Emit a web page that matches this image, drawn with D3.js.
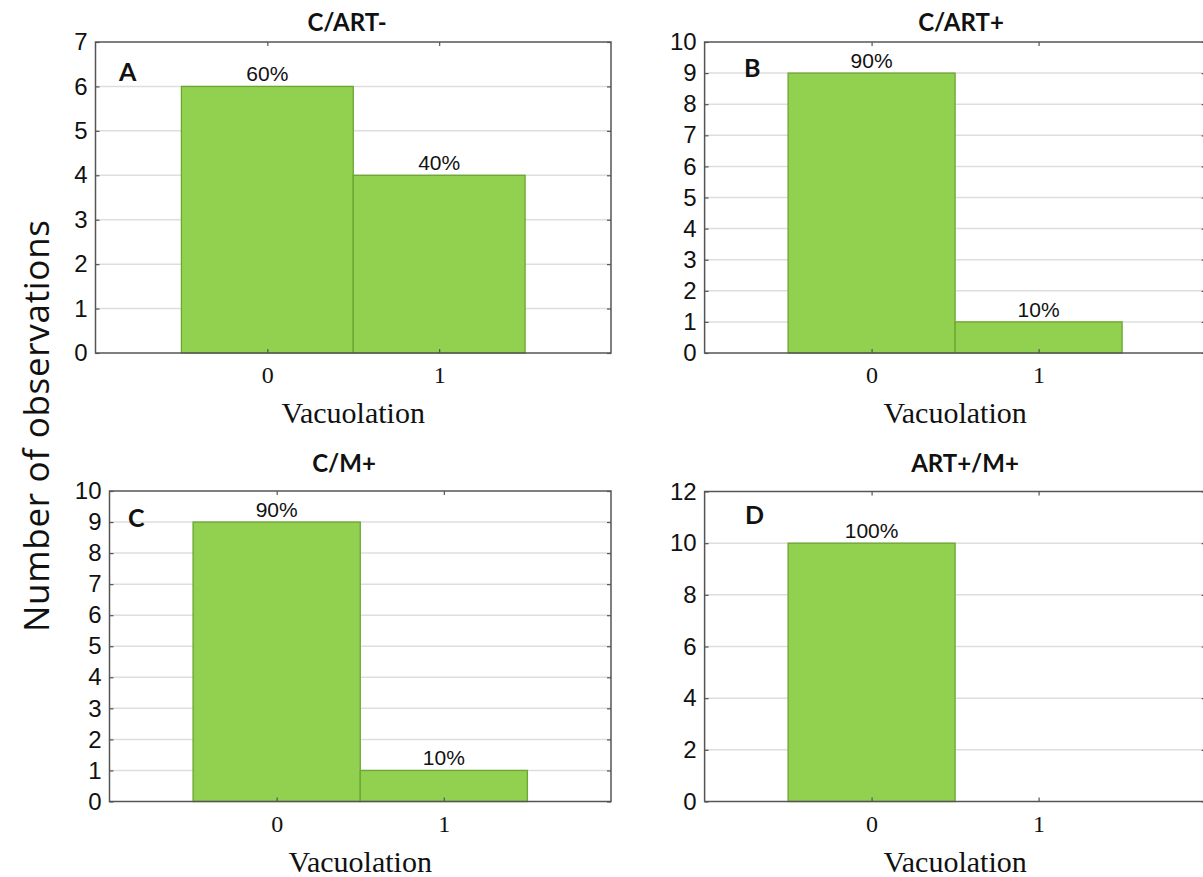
<!DOCTYPE html>
<html>
<head>
<meta charset="utf-8">
<script src="https://cdn.jsdelivr.net/npm/d3@7"></script>
<style>
  body { margin: 0; background: #fff; }
  svg { display: block; }
</style>
</head>
<body>
<div id="chart"></div>
<script>
// data
var categories = [0, 1];
var titles = ["C/ART-", "C/ART+", "C/M+", "ART+/M+"];
var letters = ["A", "B", "C", "D"];
var countsA = [6, 4];
var countsB = [9, 1];
var countsC = [9, 1];
var countsD = [10, 0];
var yMaxes = [7, 10, 10, 12];
var yStep = [1, 1, 1, 2];
var xLabel = "Vacuolation";
var yLabel = "Number of observations";

var allCounts = [countsA, countsB, countsC, countsD];

// panel placement
var layout = [
  {left: 95.5, top: 42, right: 611, bottom: 353, titleX: 347, titleY: 31, letterX: 119, letterY: 81},
  {left: 704.6, top: 42, right: 1205.6, bottom: 353, titleX: 961, titleY: 31, letterX: 744, letterY: 77},
  {left: 109.5, top: 491, right: 611, bottom: 801.5, titleX: 344, titleY: 472, letterX: 128, letterY: 527},
  {left: 704.6, top: 491.5, right: 1205.6, bottom: 801.5, titleX: 965, titleY: 472, letterX: 745, letterY: 524}
];

var W = 1203, H = 877;
var svg = d3.select("#chart").append("svg")
  .attr("width", W)
  .attr("height", H);

var sans = "'Liberation Sans', Arial, sans-serif";
var serif = "'Liberation Serif', 'Times New Roman', serif";
var title = "Lato, 'Open Sans', sans-serif";

// shared y label
svg.append("text")
  .attr("transform", "translate(49,426) rotate(-90)")
  .attr("text-anchor", "middle")
  .attr("textLength", 412)
  .attr("lengthAdjust", "spacing")
  .style("font-family", "'Open Sans', sans-serif")
  .style("font-size", "35px")
  .style("fill", "#111")
  .text(yLabel);

allCounts.forEach(function(counts, i) {
  var L = layout[i];
  var width = L.right - L.left, height = L.bottom - L.top;
  var g = svg.append("g")
    .attr("transform", "translate(" + L.left + "," + L.top + ")");

  var x = d3.scaleLinear().domain([-1, 2]).range([0, width]);
  var y = d3.scaleLinear().domain([0, yMaxes[i]]).range([height, 0]);
  var yTicks = d3.range(0, yMaxes[i] + 0.001, yStep[i]);
  var total = d3.sum(counts);

  // gridlines
  g.append("g")
    .selectAll("line")
    .data(yTicks.filter(function(t) { return t > 0 && t < yMaxes[i]; }))
    .enter().append("line")
      .attr("x1", 0).attr("x2", width)
      .attr("y1", function(d) { return y(d); })
      .attr("y2", function(d) { return y(d); })
      .attr("stroke", "#dedede")
      .attr("stroke-width", 1.5);

  var shown = categories.map(function(c, j) { return {c: c, v: counts[j]}; })
    .filter(function(d) { return d.v > 0; });

  // bars
  g.selectAll("rect.bar")
    .data(shown)
    .enter().append("rect")
      .attr("class", "bar")
      .attr("x", function(d) { return x(d.c - 0.5); })
      .attr("width", function(d) { return x(d.c + 0.5) - x(d.c - 0.5); })
      .attr("y", function(d) { return y(d.v); })
      .attr("height", function(d) { return y(0) - y(d.v); })
      .attr("fill", "#92d050")
      .attr("stroke", "#6aa632")
      .attr("stroke-width", 1.3);

  // percentage labels
  g.selectAll("text.pct")
    .data(shown)
    .enter().append("text")
      .attr("class", "pct")
      .attr("x", function(d) { return x(d.c); })
      .attr("y", function(d) { return y(d.v) - 5; })
      .attr("text-anchor", "middle")
      .style("font-family", sans)
      .style("font-size", "21px")
      .style("fill", "#111")
      .text(function(d) { return d3.format(".0%")(d.v / total); });

  // axes with inward ticks
  g.append("g")
    .call(d3.axisLeft(y).tickValues(yTicks).tickSize(-4).tickPadding(8).tickFormat(d3.format("d")))
    .attr("font-size", 24)
    .attr("font-family", sans)
    .selectAll("text").attr("fill", "#111");
  g.append("g")
    .attr("transform", "translate(" + width + ",0)")
    .call(d3.axisRight(y).tickValues(yTicks).tickSize(-4).tickFormat(""));
  g.append("g")
    .attr("transform", "translate(0," + height + ")")
    .call(d3.axisBottom(x).tickValues(categories).tickSize(-4).tickPadding(13).tickFormat(d3.format("d")))
    .attr("font-size", 24)
    .attr("font-family", serif)
    .selectAll("text").attr("fill", "#111");
  g.append("g")
    .call(d3.axisTop(x).tickValues(categories).tickSize(-4).tickFormat(""));

  g.selectAll(".domain").remove();
  g.selectAll(".tick line").attr("stroke", "#555").attr("stroke-width", 1.2);

  // frame
  g.append("rect")
    .attr("width", width).attr("height", height)
    .attr("fill", "none")
    .attr("stroke", "#555")
    .attr("stroke-width", 1.5);

  // x axis title
  g.append("text")
    .attr("x", x(0.5))
    .attr("y", height + 70)
    .attr("text-anchor", "middle")
    .style("font-family", serif)
    .style("font-size", "30px")
    .style("fill", "#111")
    .text(xLabel);

  // panel title and letter
  svg.append("text")
    .attr("x", L.titleX).attr("y", L.titleY)
    .attr("text-anchor", "middle")
    .style("font-family", title)
    .style("font-weight", "bold")
    .style("font-size", "24px")
    .style("fill", "#111")
    .text(titles[i]);
  svg.append("text")
    .attr("x", L.letterX).attr("y", L.letterY)
    .style("font-family", title)
    .style("font-weight", "bold")
    .style("font-size", "25px")
    .style("fill", "#111")
    .text(letters[i]);
});
</script>
</body>
</html>
